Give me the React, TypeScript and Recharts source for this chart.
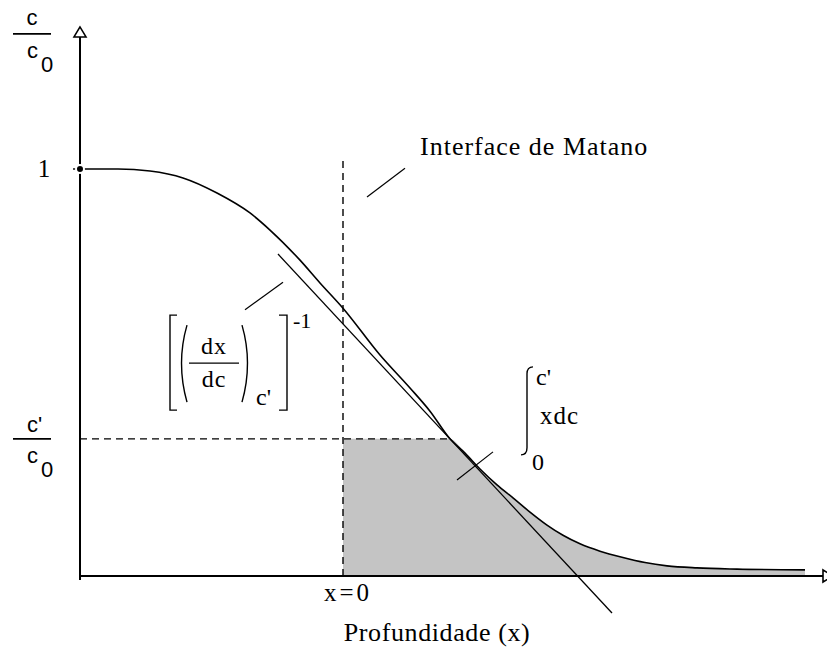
import React from "react";
import {
  ComposedChart,
  Line,
  Area,
  XAxis,
  YAxis,
  ReferenceLine,
  ReferenceDot,
} from "recharts";

// Concentration profile c/c0 versus depth (x = 0 at the Matano interface)
const depth = [
  -2.63, -2.25, -1.93, -1.6, -1.26, -0.93, -0.73, -0.43, -0.23, 0, 0.37, 0.67,
  0.87, 1.07, 1.22, 1.37, 1.54, 1.7, 1.87, 2.04, 2.2, 2.37, 2.57, 2.79, 3.02,
  3.24, 3.54, 3.94, 4.62,
];
const conc = [
  1.0, 1.0, 0.995, 0.978, 0.941, 0.892, 0.85, 0.776, 0.72, 0.658, 0.543, 0.462,
  0.405, 0.337, 0.302, 0.263, 0.224, 0.192, 0.157, 0.125, 0.1, 0.079, 0.061,
  0.046, 0.033, 0.025, 0.02, 0.017, 0.015,
];

// c'/c0 and the depth where the profile reaches it
const cPrime = 0.337;
const xPrime = 1.07;

// tangent to the profile at c'
const tangentX = [-0.65, 2.69];
const tangentC = [0.791, -0.091];

const curve = depth.map((x, i) => ({ x, c: conc[i] }));
const shade = [{ x: 0, c: cPrime }, ...curve.filter((p) => p.x >= xPrime)];
const tangent = tangentX.map((x, i) => ({ x, c: tangentC[i] }));

const X_MIN = -3.43;
const X_MAX = 4.84;
const C_MIN = -0.1867;
const C_MAX = 1.4152;
const AXIS_X = -2.63;

const SERIF = '"Liberation Serif", "Times New Roman", serif';
const SANS = '"Liberation Sans", Arial, sans-serif';

type TxtOpts = {
  anchor?: "start" | "middle" | "end";
  size?: number;
  font?: string;
  spacing?: number;
};

const note = (
  key: string,
  x: number,
  y: number,
  text: string,
  o: TxtOpts = {}
) => (
  <ReferenceDot
    key={key}
    x={x}
    y={y}
    r={0}
    ifOverflow="visible"
    shape={(p: any) => (
      <text
        x={p.cx}
        y={p.cy}
        textAnchor={o.anchor ?? "start"}
        fontFamily={o.font ?? SERIF}
        fontSize={o.size ?? 25}
        letterSpacing={o.spacing ?? 0}
        fill="#000"
      >
        {text}
      </text>
    )}
  />
);

const seg = (
  key: string,
  x1: number,
  y1: number,
  x2: number,
  y2: number,
  width = 1.2,
  dash?: string
) => (
  <ReferenceLine
    key={key}
    segment={[
      { x: x1, y: y1 },
      { x: x2, y: y2 },
    ]}
    stroke="#000"
    strokeWidth={width}
    strokeDasharray={dash}
    ifOverflow="visible"
  />
);

export default function App() {
  return (
    <div style={{ position: "absolute", left: 0, top: 0, background: "#fff" }}>
      <ComposedChart
        width={827}
        height={652}
        margin={{ top: 0, right: 0, bottom: 0, left: 0 }}
      >
        <XAxis
          type="number"
          dataKey="x"
          domain={[X_MIN, X_MAX]}
          allowDataOverflow
          hide
        />
        <YAxis
          type="number"
          domain={[C_MIN, C_MAX]}
          allowDataOverflow
          hide
        />

        <Area
          data={shade}
          dataKey="c"
          type="monotone"
          baseValue={0}
          stroke="none"
          fill="#c4c4c4"
          fillOpacity={1}
          isAnimationActive={false}
        />

        {/* dashed guides: Matano interface and c' level */}
        {seg("vx0", 0, 0, 0, 1.022, 1.4, "7 5")}
        {seg("hc", AXIS_X, cPrime, xPrime, cPrime, 1.4, "7 5")}

        {/* axes */}
        {seg("yaxis", AXIS_X, -0.01, AXIS_X, 1.349, 2)}
        {seg("xaxis", AXIS_X, 0, X_MAX, 0, 2)}
        {seg("tick1", -2.7, 1, AXIS_X, 1, 1.4)}
        <ReferenceDot
          x={AXIS_X}
          y={1.349}
          r={0}
          ifOverflow="visible"
          shape={(p: any) => (
            <polygon
              points={`${p.cx},${p.cy} ${p.cx - 6},${p.cy + 10} ${p.cx + 6},${p.cy + 10}`}
              fill="#fff"
              stroke="#000"
              strokeWidth={1.6}
            />
          )}
        />
        <ReferenceDot
          x={4.8}
          y={0}
          r={0}
          ifOverflow="visible"
          shape={(p: any) => (
            <polygon
              points={`${p.cx},${p.cy - 6} ${p.cx + 10},${p.cy} ${p.cx},${p.cy + 6}`}
              fill="#fff"
              stroke="#000"
              strokeWidth={1.6}
            />
          )}
        />

        <Line
          data={curve}
          dataKey="c"
          type="monotone"
          stroke="#000"
          strokeWidth={1.6}
          dot={false}
          isAnimationActive={false}
        />
        <Line
          data={tangent}
          dataKey="c"
          type="linear"
          stroke="#000"
          strokeWidth={1.3}
          dot={false}
          isAnimationActive={false}
        />

        {/* leader lines */}
        {seg("lm", 0.24, 0.931, 0.62, 1.002, 1.2)}
        {seg("lb", -0.98, 0.654, -0.6, 0.722, 1.2)}
        {seg("li", 1.14, 0.236, 1.5, 0.305, 1.2)}

        {/* y-axis labels */}
        {note("c", -3.11, 1.354, "c", { anchor: "middle", font: SANS, size: 22 })}
        {seg("fr1", -3.3, 1.332, -2.92, 1.332, 1.6)}
        {note("c0c", -3.16, 1.273, "c", { font: SANS, size: 22 })}
        {note("c0s", -3.02, 1.238, "0", { font: SANS, size: 22 })}
        {note("one", -2.99, 0.98, "1", { anchor: "middle", size: 25 })}
        {note("cp", -3.16, 0.354, "c'", { font: SANS, size: 22 })}
        {seg("fr2", -3.3, cPrime, -2.92, cPrime, 1.6)}
        {note("cpc", -3.16, 0.278, "c", { font: SANS, size: 22 })}
        {note("cps", -3.02, 0.243, "0", { font: SANS, size: 22 })}

        {/* axis captions */}
        {note("x0", 0.05, -0.061, "x=0", { anchor: "middle", size: 25, spacing: 3 })}
        {note("prof", 0.94, -0.16, "Profundidade (x)", {
          anchor: "middle",
          size: 26,
          spacing: 0.6,
        })}
        {note("matano", 0.77, 1.034, "Interface de Matano", { size: 26, spacing: 1 })}

        {/* [ (dx/dc)_c' ]^-1 */}
        <ReferenceDot
          x={-1.29}
          y={0.523}
          r={0}
          ifOverflow="visible"
          shape={(p: any) => {
            const { cx, cy } = p;
            return (
              <g fill="none" stroke="#000" strokeWidth={1.4}>
                <path d={`M ${cx - 37} ${cy - 48} H ${cx - 44} V ${cy + 47} H ${cx - 37}`} />
                <path d={`M ${cx + 65} ${cy - 48} H ${cx + 73} V ${cy + 47} H ${cx + 65}`} />
                <path d={`M ${cx - 27} ${cy - 38} Q ${cx - 38} ${cy} ${cx - 27} ${cy + 39}`} />
                <path d={`M ${cx + 28} ${cy - 38} Q ${cx + 39} ${cy} ${cx + 28} ${cy + 39}`} />
                <line x1={cx - 25} y1={cy} x2={cx + 25} y2={cy} />
              </g>
            );
          }}
        />
        {note("dx", -1.29, 0.545, "dx", { anchor: "middle", size: 24, spacing: 1 })}
        {note("dc", -1.29, 0.464, "dc", { anchor: "middle", size: 24, spacing: 1 })}
        {note("sub", -0.87, 0.42, "c'", { size: 24 })}
        {note("pow", -0.5, 0.609, "-1", { size: 22 })}

        {/* integral of x dc from 0 to c' */}
        <ReferenceDot
          x={1.84}
          y={0.396}
          r={0}
          ifOverflow="visible"
          shape={(p: any) => {
            const { cx, cy } = p;
            return (
              <path
                d={`M ${cx + 6} ${cy - 48} Q ${cx} ${cy - 48} ${cx} ${cy - 41} V ${cy + 33} Q ${cx} ${cy + 40} ${cx - 6} ${cy + 40}`}
                fill="none"
                stroke="#000"
                strokeWidth={1.4}
              />
            );
          }}
        />
        {note("ic", 1.93, 0.469, "c'", { size: 24 })}
        {note("xdc", 1.97, 0.373, "xdc", { size: 25, spacing: 1 })}
        {note("i0", 1.89, 0.26, "0", { size: 24 })}
      </ComposedChart>
    </div>
  );
}
